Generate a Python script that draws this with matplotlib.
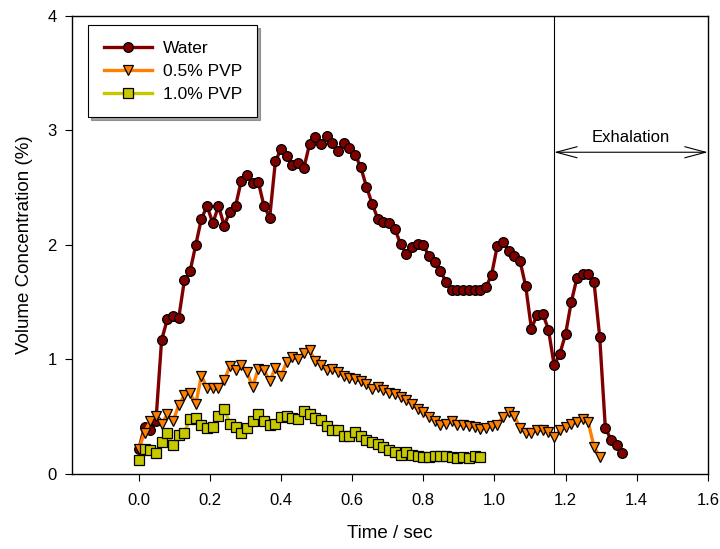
import matplotlib
matplotlib.use("Agg")
import matplotlib.pyplot as plt

plt.rcParams['font.family'] = ['Liberation Sans', 'DejaVu Sans']

# sample times (s), 62.5 Hz
time_s = [0.000, 0.016, 0.032, 0.048, 0.064, 0.080, 0.096, 0.112, 0.128, 0.144,
          0.160, 0.176, 0.192, 0.208, 0.224, 0.240, 0.256, 0.272, 0.288, 0.304,
          0.320, 0.336, 0.352, 0.368, 0.384, 0.400, 0.416, 0.432, 0.448, 0.464,
          0.480, 0.496, 0.512, 0.528, 0.544, 0.560, 0.576, 0.592, 0.608, 0.624,
          0.640, 0.656, 0.672, 0.688, 0.704, 0.720, 0.736, 0.752, 0.768, 0.784,
          0.800, 0.816, 0.832, 0.848, 0.864, 0.880, 0.896, 0.912, 0.928, 0.944,
          0.960, 0.976, 0.992, 1.008, 1.024, 1.040, 1.056, 1.072, 1.088, 1.104,
          1.120, 1.136, 1.152, 1.168, 1.184, 1.200, 1.216, 1.232, 1.248, 1.264,
          1.280, 1.296, 1.312, 1.328, 1.344, 1.360]

water = [0.22, 0.41, 0.38, 0.46, 1.17, 1.35, 1.38, 1.36, 1.69, 1.77,
         2.00, 2.23, 2.34, 2.19, 2.34, 2.17, 2.29, 2.34, 2.56, 2.61,
         2.54, 2.55, 2.34, 2.24, 2.73, 2.84, 2.78, 2.70, 2.72, 2.67,
         2.88, 2.94, 2.88, 2.95, 2.89, 2.82, 2.89, 2.85, 2.79, 2.68,
         2.51, 2.36, 2.23, 2.20, 2.19, 2.14, 2.01, 1.92, 1.98, 2.01,
         2.00, 1.90, 1.85, 1.77, 1.68, 1.61, 1.61, 1.61, 1.61, 1.61,
         1.61, 1.63, 1.74, 1.99, 2.03, 1.95, 1.90, 1.86, 1.64, 1.27,
         1.39, 1.40, 1.26, 0.95, 1.05, 1.22, 1.50, 1.71, 1.75, 1.75,
         1.68, 1.20, 0.40, 0.30, 0.25, 0.18]

pvp_05 = [0.22, 0.36, 0.46, 0.51, 0.44, 0.52, 0.46, 0.60, 0.69, 0.71,
          0.61, 0.86, 0.75, 0.75, 0.75, 0.82, 0.94, 0.91, 0.95, 0.89,
          0.76, 0.92, 0.91, 0.81, 0.93, 0.86, 0.98, 1.02, 1.00, 1.06,
          1.08, 0.99, 0.95, 0.91, 0.92, 0.89, 0.86, 0.84, 0.83, 0.81,
          0.79, 0.74, 0.76, 0.73, 0.71, 0.70, 0.67, 0.65, 0.61, 0.57,
          0.54, 0.50, 0.46, 0.43, 0.44, 0.46, 0.43, 0.43, 0.42, 0.41,
          0.39, 0.40, 0.42, 0.43, 0.50, 0.54, 0.51, 0.40, 0.36, 0.36,
          0.38, 0.38, 0.37, 0.32, 0.38, 0.41, 0.44, 0.45, 0.48, 0.45,
          0.24, 0.15]

pvp_10 = [0.12, 0.22, 0.21, 0.18, 0.28, 0.36, 0.25, 0.34, 0.36, 0.48,
          0.49, 0.43, 0.40, 0.41, 0.51, 0.57, 0.44, 0.41, 0.36, 0.40,
          0.46, 0.52, 0.46, 0.43, 0.44, 0.50, 0.51, 0.49, 0.48, 0.55,
          0.52, 0.49, 0.47, 0.42, 0.38, 0.38, 0.33, 0.33, 0.37, 0.33,
          0.30, 0.28, 0.26, 0.24, 0.21, 0.19, 0.17, 0.19, 0.17, 0.16,
          0.15, 0.15, 0.16, 0.16, 0.16, 0.15, 0.14, 0.15, 0.14, 0.16,
          0.15]

exhale_start = 1.168

fig = plt.figure(figsize=(7.2, 5.49), dpi=100)
ax = fig.add_axes([0.1, 0.1366, 0.883, 0.8343])

ax.plot(time_s[:len(water)], water, color='#800000', lw=2.4, marker='o', ms=7,
        mfc='#800000', mec='black', mew=0.9, label='Water', zorder=3)
ax.plot(time_s[:len(pvp_05)], pvp_05, color='#ff8000', lw=2.4, marker='v', ms=7.5,
        mfc='#ff8000', mec='black', mew=0.9, label='0.5% PVP', zorder=3)
ax.plot(time_s[:len(pvp_10)], pvp_10, color='#c8c800', lw=2.4, marker='s', ms=6.5,
        mfc='#c8c800', mec='black', mew=0.9, label='1.0% PVP', zorder=3)

# exhalation marker
ax.axvline(exhale_start, color='black', lw=0.8, zorder=2)
ax.annotate('', xy=(exhale_start, 2.81), xytext=(1.6, 2.81),
            arrowprops=dict(arrowstyle='<->, head_length=1.5, head_width=0.4',
                            color='black', lw=0.8, shrinkA=0, shrinkB=0))
ax.text((exhale_start + 1.6) / 2, 2.87, 'Exhalation', ha='center', va='bottom', fontsize=12)

ax.set_xlim(-0.188, 1.6)
ax.set_ylim(0, 4)
ax.set_xticks([0.0, 0.2, 0.4, 0.6, 0.8, 1.0, 1.2, 1.4, 1.6])
ax.set_xticklabels(['0.0', '0.2', '0.4', '0.6', '0.8', '1.0', '1.2', '1.4', '1.6'])
ax.set_yticks([0, 1, 2, 3, 4])
ax.tick_params(direction='out', length=5, width=0.8, labelsize=12, pad=6)
ax.tick_params(axis='x', pad=9)
for s in ax.spines.values():
    s.set_linewidth(1.0)

ax.set_xlabel('Time / sec', fontsize=13.5, labelpad=12)
ax.set_ylabel('Volume Concentration (%)', fontsize=13.5, labelpad=10)

leg = ax.legend(loc='upper left', bbox_to_anchor=(0.025, 0.98), borderaxespad=0,
                fontsize=12.5, frameon=True, fancybox=False, shadow=True, framealpha=1,
                edgecolor='black', handlelength=2.8, borderpad=0.9,
                labelspacing=0.45, handletextpad=0.6)
leg.get_frame().set_linewidth(0.8)

fig.savefig('out.png', dpi=100)
